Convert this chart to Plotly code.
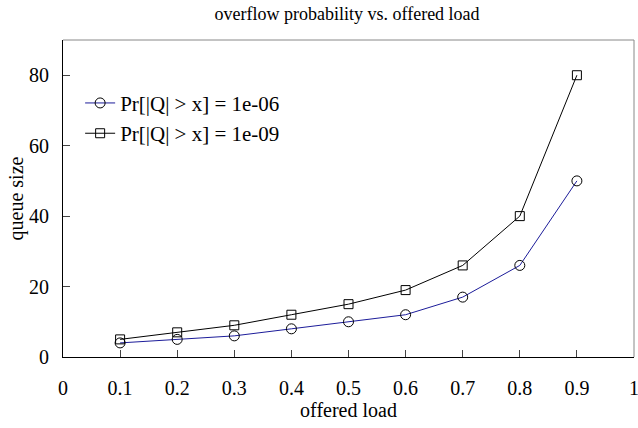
import plotly.graph_objects as go

load = [0.1, 0.2, 0.3, 0.4, 0.5, 0.6, 0.7, 0.8, 0.9]
q_1e06 = [4, 5, 6, 8, 10, 12, 17, 26, 50]
q_1e09 = [5, 7, 9, 12, 15, 19, 26, 40, 80]
x_ticks = [0, 0.1, 0.2, 0.3, 0.4, 0.5, 0.6, 0.7, 0.8, 0.9, 1]
x_labels = ["0", "0.1", "0.2", "0.3", "0.4", "0.5", "0.6", "0.7", "0.8", "0.9", "1"]
y_ticks = [0, 20, 40, 60, 80]

FONT = "Liberation Serif"

fig = go.Figure()
fig.add_trace(go.Scatter(
    x=load, y=q_1e06, mode="lines+markers", name="Pr[|Q| > x] = 1e-06",
    line=dict(color="#1c1c9a", width=1),
    marker=dict(symbol="circle-open", size=10, color="black", line=dict(width=1)),
))
fig.add_trace(go.Scatter(
    x=load, y=q_1e09, mode="lines+markers", name="Pr[|Q| > x] = 1e-09",
    line=dict(color="black", width=1),
    marker=dict(symbol="square-open", size=9, color="black", line=dict(width=1)),
))

fig.update_layout(
    width=638, height=428,
    margin=dict(l=63, r=4, t=40, b=71, autoexpand=False),
    paper_bgcolor="white", plot_bgcolor="white",
    font=dict(family=FONT, size=20, color="black"),
    title=dict(text="overflow probability vs. offered load", x=0.544, xanchor="center",
               y=0.967, yanchor="middle", font=dict(family=FONT, size=18)),
    showlegend=True,
    legend=dict(x=0.03, y=0.865, xanchor="left", yanchor="top", bgcolor="rgba(0,0,0,0)",
                font=dict(family=FONT, size=21), tracegroupgap=0, itemwidth=30),
    xaxis=dict(range=[0, 1], tickvals=x_ticks, ticktext=x_labels, ticks="inside", ticklen=7,
               tickcolor="#444", showline=True, linecolor="black", linewidth=1, showgrid=False,
               zeroline=False, ticklabelstandoff=13, automargin=False,
               ticklabeloverflow="allow",
               tickfont=dict(family=FONT, size=20),
               title=dict(text="offered load", font=dict(family=FONT, size=20), standoff=2)),
    yaxis=dict(range=[0, 90], tickvals=y_ticks, ticks="inside", ticklen=7, tickcolor="#444",
               showline=True, linecolor="black", linewidth=1, showgrid=False, zeroline=False,
               ticklabelstandoff=9, automargin=False, ticklabeloverflow="allow",
               tickfont=dict(family=FONT, size=20),
               title=dict(text="queue size", font=dict(family=FONT, size=20), standoff=0)),
)
fig.add_shape(type="line", xref="paper", yref="paper", x0=0, x1=1, y0=1, y1=1,
              line=dict(color="#888", width=1))
fig.add_shape(type="line", xref="paper", yref="paper", x0=1, x1=1, y0=0, y1=1,
              line=dict(color="#888", width=1))

fig.write_html("out.html", config={"displayModeBar": False},
               post_script="document.body.style.margin='0';")
